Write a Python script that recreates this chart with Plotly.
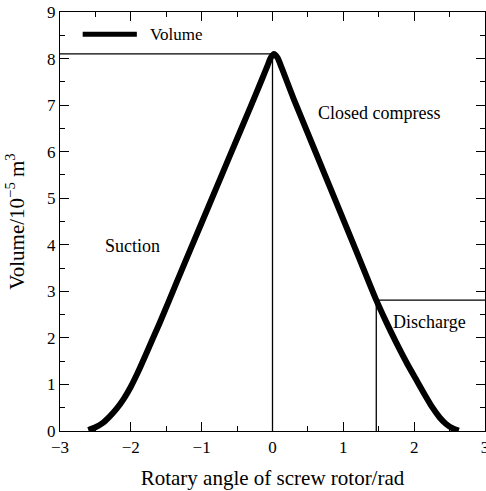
import plotly.graph_objects as go

# Swept volume of the screw-compressor groove versus rotor rotation angle
angle = [-2.60, -2.50, -2.40, -2.30, -2.20, -2.10, -2.00, -1.90, -1.80, -1.70,
         -1.59, -1.36, -1.12, -0.89, -0.60, -0.30, -0.15, -0.07, -0.02, 0.02,
         0.07, 0.13, 0.30, 0.60, 0.90, 1.20, 1.465, 1.60, 1.74, 1.90,
         2.03, 2.15, 2.26, 2.36, 2.45, 2.54, 2.63]
volume = [0.02, 0.08, 0.17, 0.31, 0.48, 0.69, 0.95, 1.26, 1.60, 1.95,
          2.33, 3.17, 4.04, 4.87, 5.92, 7.00, 7.55, 7.85, 8.03, 8.10,
          8.02, 7.80, 7.13, 6.02, 4.91, 3.80, 2.81, 2.36, 1.92, 1.45,
          1.10, 0.78, 0.50, 0.29, 0.15, 0.06, 0.01]

# Phase boundaries: end of suction (peak volume) and start of discharge
peak_angle, peak_volume = 0.0, 8.10
discharge_angle, discharge_volume = 1.465, 2.81

# Phase labels
phase_names = ["Suction", "Closed compress", "Discharge"]
phase_x = [-1.98, 1.51, 2.21]
phase_y = [3.98, 6.82, 2.35]

x_ticks = [-3, -2, -1, 0, 1, 2, 3]
y_ticks = list(range(0, 10))

serif = "Liberation Serif"
fig = go.Figure()

thin = dict(color="black", width=1.3)
fig.add_trace(go.Scatter(x=[-3, peak_angle, peak_angle], y=[peak_volume, peak_volume, 0],
                         mode="lines", line=thin, showlegend=False, hoverinfo="skip"))
fig.add_trace(go.Scatter(x=[3, discharge_angle, discharge_angle],
                         y=[discharge_volume, discharge_volume, 0],
                         mode="lines", line=thin, showlegend=False, hoverinfo="skip"))

fig.add_trace(go.Scatter(x=angle, y=volume, mode="lines", name="Volume",
                         line=dict(color="black", width=6, shape="spline", smoothing=0.8),
                         showlegend=False))

# Legend key drawn inside the frame
fig.add_shape(type="line", xref="x", yref="y", x0=-2.68, x1=-1.915, y0=8.52, y1=8.52,
              line=dict(color="black", width=5))
fig.add_annotation(x=-1.76, y=8.52, xref="x", yref="y", text="Volume", showarrow=False,
                   xanchor="left", yanchor="middle", font=dict(family=serif, size=17, color="black"))

for name, px, py in zip(phase_names, phase_x, phase_y):
    fig.add_annotation(x=px, y=py, xref="x", yref="y", text=name, showarrow=False,
                       xanchor="center", yanchor="middle",
                       font=dict(family=serif, size=18, color="black"))

axis_common = dict(showline=True, linecolor="black", linewidth=1.3, mirror="allticks",
                   ticks="inside", ticklen=9, tickwidth=1.3, tickcolor="black",
                   showgrid=False, zeroline=False, ticklabeloverflow="allow",
                   automargin=False,
                   tickfont=dict(family=serif, size=17, color="black"))

fig.update_xaxes(range=[-3, 3], tickvals=x_ticks,
                 minor=dict(dtick=0.5, tick0=0, ticks="inside", ticklen=5, tickwidth=1.3,
                            tickcolor="black", showgrid=False),
                 title=dict(text="Rotary angle of screw rotor/rad",
                            font=dict(family=serif, size=21, color="black"), standoff=14),
                 **axis_common)
fig.update_yaxes(range=[0, 9], tickvals=y_ticks,
                 minor=dict(dtick=0.5, tick0=0, ticks="inside", ticklen=5, tickwidth=1.3,
                            tickcolor="black", showgrid=False),
                 title=dict(text="Volume/10<sup>−5</sup> m<sup>3</sup>",
                            font=dict(family=serif, size=21, color="black"), standoff=16),
                 **axis_common)

fig.update_layout(width=486, height=491, margin=dict(l=60, r=1, t=12, b=60),
                  plot_bgcolor="white", paper_bgcolor="white", showlegend=False)

fig.write_html("out.html")
